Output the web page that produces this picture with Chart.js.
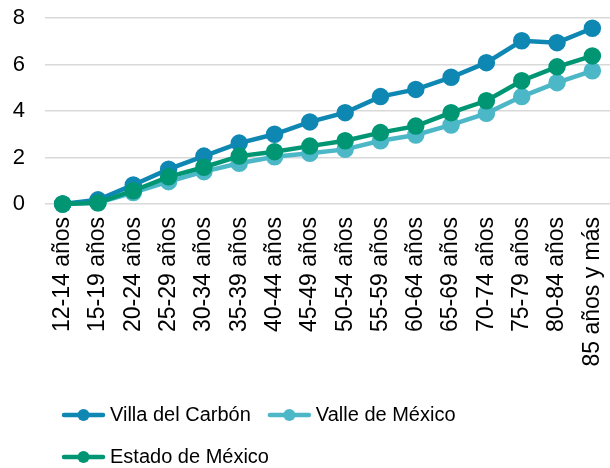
<!DOCTYPE html>
<html>
<head>
<meta charset="utf-8">
<script src="https://cdn.jsdelivr.net/npm/chart.js@4/dist/chart.umd.min.js"></script>
<style>
  html, body { margin: 0; padding: 0; background: #fff; }
  #chart { display: block; }
</style>
</head>
<body>
<canvas id="chart" width="610" height="468"></canvas>
<script>
const categories = ['12-14 años', '15-19 años', '20-24 años', '25-29 años', '30-34 años', '35-39 años',
  '40-44 años', '45-49 años', '50-54 años', '55-59 años', '60-64 años', '65-69 años',
  '70-74 años', '75-79 años', '80-84 años', '85 años y más'];

const villaDelCarbon = [0, 0.18, 0.82, 1.5, 2.06, 2.62, 3.0, 3.53, 3.93, 4.62, 4.93, 5.45, 6.08, 7.02, 6.94, 7.56];
const valleDeMexico = [0, 0.05, 0.49, 0.96, 1.39, 1.75, 2.03, 2.18, 2.35, 2.72, 2.97, 3.4, 3.9, 4.62, 5.22, 5.73];
const estadoDeMexico = [0, 0.05, 0.57, 1.17, 1.58, 2.06, 2.25, 2.49, 2.72, 3.07, 3.35, 3.93, 4.44, 5.3, 5.9, 6.37];

const yTicks = [0, 2, 4, 6, 8];

const FONT = "'Liberation Sans', Arial, sans-serif";

// legend marker: short line with a dot in the middle
function legendMarker(color) {
  const c = document.createElement('canvas');
  c.width = 45;
  c.height = 14;
  const g = c.getContext('2d');
  g.strokeStyle = color;
  g.lineWidth = 4.5;
  g.lineCap = 'round';
  g.beginPath();
  g.moveTo(3, 7);
  g.lineTo(42, 7);
  g.stroke();
  g.fillStyle = color;
  g.beginPath();
  g.arc(22.5, 7, 6, 0, Math.PI * 2);
  g.fill();
  return c;
}

function lineSet(label, data, color, order) {
  return {
    label: label,
    data: data,
    borderColor: color,
    backgroundColor: color,
    pointBackgroundColor: color,
    pointBorderColor: color,
    borderWidth: 4.5,
    pointRadius: 6.5,
    pointHoverRadius: 6.5,
    tension: 0,
    fill: false,
    clip: false,
    order: order,
    marker: legendMarker(color)
  };
}

function noScalePadding(scale) {
  scale.paddingLeft = 0;
  scale.paddingRight = 0;
  scale.paddingTop = 0;
  scale.paddingBottom = 0;
}

new Chart(document.getElementById('chart').getContext('2d'), {
  type: 'line',
  data: {
    labels: categories,
    datasets: [
      lineSet('Villa del Carbón', villaDelCarbon, '#0f87b3', 2),
      lineSet('Valle de México', valleDeMexico, '#4bb7c7', 3),
      lineSet('Estado de México', estadoDeMexico, '#009673', 1)
    ]
  },
  options: {
    responsive: false,
    animation: false,
    layout: { autoPadding: false, padding: { top: 18, right: -2, left: 0, bottom: -9 } },
    plugins: {
      tooltip: { enabled: false },
      legend: {
        position: 'bottom',
        align: 'start',
        fullSize: false,
        labels: {
          usePointStyle: true,
          pointStyleWidth: 33,
          padding: 22,
          color: '#000',
          font: { family: FONT, size: 20 },
          generateLabels: chart => chart.data.datasets.map((ds, i) => ({
            text: ds.label,
            fillStyle: ds.borderColor,
            strokeStyle: ds.borderColor,
            lineWidth: 0,
            pointStyle: ds.marker,
            hidden: false,
            datasetIndex: i
          }))
        }
      }
    },
    scales: {
      x: {
        offset: true,
        afterFit: scale => {
          scale.height = 179;
          noScalePadding(scale);
        },
        grid: { display: false, drawTicks: true, tickLength: 13 },
        border: { display: false },
        ticks: {
          color: '#000',
          font: { family: FONT, size: 23 },
          maxRotation: 90,
          minRotation: 90,
          padding: 0,
          autoSkip: false
        }
      },
      y: {
        min: 0,
        max: 8,
        afterBuildTicks: scale => { scale.ticks = yTicks.map(v => ({ value: v })); },
        afterFit: scale => {
          scale.width = 45;
          noScalePadding(scale);
        },
        grid: { color: '#d9d9d9', lineWidth: 1.5, drawTicks: false },
        border: { display: false },
        ticks: {
          color: '#000',
          font: { family: FONT, size: 22 },
          padding: 20
        }
      }
    }
  }
});
</script>
</body>
</html>
